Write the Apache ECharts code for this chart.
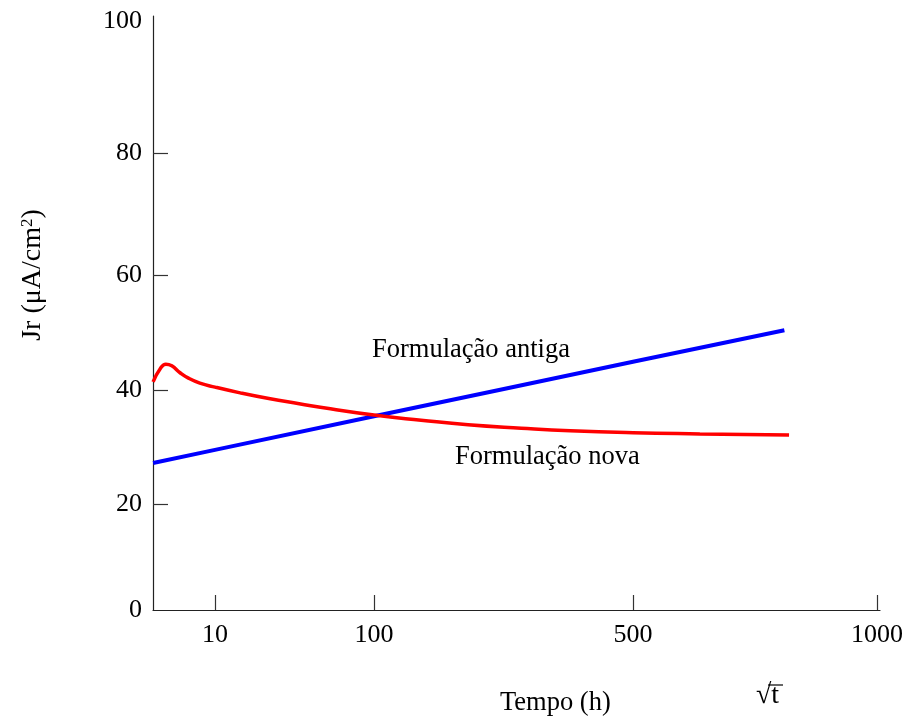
<!DOCTYPE html>
<html>
<head>
<meta charset="utf-8">
<script src="https://cdn.jsdelivr.net/npm/echarts@6/dist/echarts.min.js"></script>
<style>html,body{margin:0;padding:0;background:#fff;}#c{width:912px;height:718px;}</style>
</head>
<body>
<div id="c"></div>
<script>
// ---- data (time in hours, Jr in µA/cm²) ----
const xTickLabels = [10, 100, 500, 1000];
const yTickLabels = [0, 20, 40, 60, 80, 100];

const novaT  = [0.25, 0.65, 1.1, 1.7, 2.75, 4, 6.3, 10, 18, 30, 46, 66, 100, 150, 210, 290, 375, 500, 620, 800];
const novaJr = [41.4, 43.7, 44.5, 44.2, 43.0, 42.1, 41.2, 40.5, 39.5, 38.5, 37.6, 36.7, 35.6, 34.7, 33.9, 33.3, 32.85, 32.5, 32.3, 32.1];

const antigaT  = [0.25, 10, 100, 255, 500, 790];
const antigaJr = [27.2, 29.5, 35.4, 40.0, 44.9, 50.4];

// ---- axis geometry of the reference (non-uniform tick spacing, fraction of axis length) ----
const xTickFrac = [62/727, 221/727, 480/727, 724/727];
const yTickFrac = [0, 106/594, 220/594, 335/594, 457/594, 589/594];

function interp(v, ks, fs) {
  let i = 0;
  if (v <= ks[0]) i = 0;
  else if (v >= ks[ks.length-1]) i = ks.length - 2;
  else { while (v > ks[i+1]) i++; }
  const k0 = ks[i], k1 = ks[i+1];
  return fs[i] + (v - k0) / (k1 - k0) * (fs[i+1] - fs[i]);
}
const xKnots = xTickLabels.map(Math.sqrt);
const mapX = t => interp(Math.sqrt(t), xKnots, xTickFrac);
const mapY = v => interp(v, yTickLabels, yTickFrac);

function labelFor(val, fracs, labels) {
  for (let i = 0; i < fracs.length; i++) if (Math.abs(fracs[i] - val) < 1e-6) return String(labels[i]);
  return '';
}

const font = '"Liberation Serif", "Times New Roman", serif';
const chart = echarts.init(document.getElementById('c'));
chart.setOption({
  animation: false,
  grid: { left: 153, right: 32, top: 16, bottom: 108 },
  xAxis: {
    type: 'value', min: 0, max: 1,
    axisLine: { show: true, lineStyle: { color: '#222', width: 1.2 } },
    axisTick: { show: true, inside: true, length: 15, customValues: xTickFrac, lineStyle: { color: '#333', width: 1.2 } },
    axisLabel: { customValues: xTickFrac, margin: 12, color: '#000', fontFamily: font, fontSize: 26,
      formatter: v => labelFor(v, xTickFrac, xTickLabels) },
    splitLine: { show: false }
  },
  yAxis: {
    type: 'value', min: 0, max: 1,
    axisLine: { show: true, lineStyle: { color: '#222', width: 1.2 } },
    axisTick: { show: true, inside: true, length: 15, customValues: yTickFrac.slice(1, 5), lineStyle: { color: '#333', width: 1.2 } },
    axisLabel: { customValues: yTickFrac, margin: 11, color: '#000', fontFamily: font, fontSize: 26,
      padding: [6, 0, 0, 0],
      formatter: v => labelFor(v, yTickFrac, yTickLabels) },
    splitLine: { show: false }
  },
  series: [
    { name: 'Formulação antiga', type: 'line', showSymbol: false, symbol: 'none',
      data: antigaT.map((t, i) => [mapX(t), mapY(antigaJr[i])]),
      lineStyle: { color: '#0000ff', width: 4 }, z: 3 },
    { name: 'Formulação nova', type: 'line', showSymbol: false, symbol: 'none', smooth: 0.5,
      data: novaT.map((t, i) => [mapX(t), mapY(novaJr[i])]),
      lineStyle: { color: '#ff0000', width: 3.5 }, z: 4 }
  ],
  graphic: [
    { type: 'text', x: 33, y: 275, rotation: Math.PI / 2,
      style: { text: '{a|Jr (μA/cm}{s|2}{a|)}', align: 'center', verticalAlign: 'middle',
        rich: { a: { fill: '#000', font: '28px ' + font },
                s: { fill: '#000', font: '17px ' + font, verticalAlign: 'top', padding: [0, 0, 10, 0] } } } },
    { type: 'text', left: 372, top: 337, style: { text: 'Formulação antiga', fill: '#000', font: '26.5px ' + font } },
    { type: 'text', left: 455, top: 444, style: { text: 'Formulação nova', fill: '#000', font: '26.5px ' + font } },
    { type: 'text', left: 500, top: 690, style: { text: 'Tempo (h)', fill: '#000', font: '26.5px ' + font } },
    { type: 'text', left: 756, top: 682, style: { text: '√t', fill: '#000', font: '28px ' + font } },
    { type: 'line', shape: { x1: 768, y1: 685, x2: 783, y2: 685 }, style: { stroke: '#000', lineWidth: 1.2 } }
  ]
});
</script>
</body>
</html>
